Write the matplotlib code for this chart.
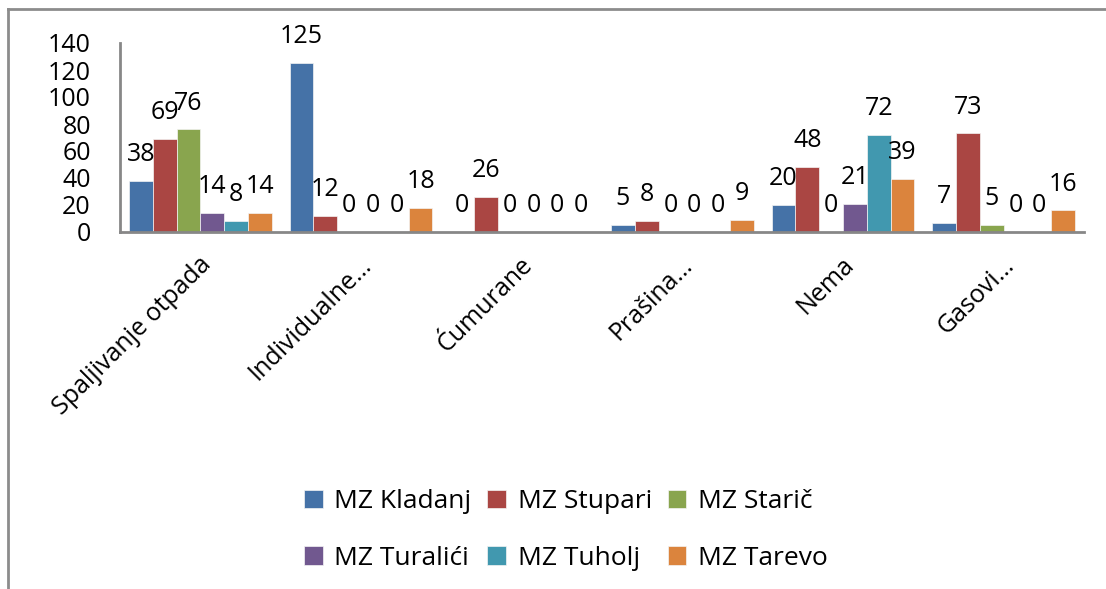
import numpy
import matplotlib.pyplot as plt
from matplotlib.lines import Line2D

plt.rcParams["font.family"] = ["Open Sans", "DejaVu Sans"]

categories = ["Spaljivanje otpada", "Individualne…", "Ćumurane", "Prašina…", "Nema", "Gasovi…"]
series = ["MZ Kladanj", "MZ Stupari", "MZ Starič", "MZ Turalići", "MZ Tuholj", "MZ Tarevo"]
kladanj = [38, 125, 0, 5, 20, 7]
stupari = [69, 12, 26, 8, 48, 73]
staric = [76, 0, 0, 0, 0, 5]
turalici = [14, 0, 0, 0, 21, 0]
tuholj = [8, 0, 0, 0, 72, 0]
tarevo = [14, 18, 0, 9, 39, 16]
values = [kladanj, stupari, staric, turalici, tuholj, tarevo]
colors = ["#4572A7", "#AA4643", "#89A54E", "#71588F", "#4198AF", "#DB843D"]

W, H = 1106, 589
fs = 18
fig = plt.figure(figsize=(W / 100, H / 100), dpi=100)
ax = fig.add_axes([120 / W, 1 - 232 / H, (1084 - 120) / W, (232 - 43) / H])

X = numpy.arange(len(categories))
width = 1 / (len(series) + 0.75)
handles = []
for i, (name, vals, color) in enumerate(zip(series, values, colors)):
    pos = X + (i - (len(series) - 1) / 2) * width
    bars = ax.bar(pos, vals, width, color=color, label=name,
                  edgecolor="#f4f4f4", linewidth=0.5)
    handles.append(bars)
    for x, v in zip(pos, vals):
        ax.annotate(str(v), (x, v), xytext=(0, 10), textcoords="offset points",
                    ha="center", va="bottom", fontsize=fs, color="black")

ax.set_xlim(-0.5, len(categories) - 0.5)
ax.set_ylim(0, 140)
ax.set_yticks(range(0, 141, 20))
ax.tick_params(axis="y", length=0, pad=21, labelsize=fs)
ax.tick_params(axis="x", length=0)
ax.set_xticks(X)
ax.set_xticklabels([])
for x, label in zip(X, categories):
    ax.annotate(label, (x, 0), xytext=(5, -21), textcoords="offset points",
                rotation=45, rotation_mode="anchor", ha="right", va="center",
                fontsize=fs, annotation_clip=False)

for side in ["top", "right"]:
    ax.spines[side].set_visible(False)
for side in ["left", "bottom"]:
    ax.spines[side].set_color("#878787")
    ax.spines[side].set_linewidth(2)

# legend is filled column by column, so reorder to read row by row
order = [0, 3, 1, 4, 2, 5]
fig.legend([handles[i] for i in order], [series[i] for i in order],
           loc="center", bbox_to_anchor=(566 / W, 1 - 530 / H), ncol=3,
           frameon=False, fontsize=19, handlelength=0.7, handleheight=0.7,
           handletextpad=0.45, columnspacing=0.6, labelspacing=1.2)

# chart frame (left and top edges only visible)
fig.add_artist(Line2D([8 / W, 8 / W], [0, 1 - 9 / H], color="#8c8c8c", linewidth=2))
fig.add_artist(Line2D([8 / W, 1], [1 - 9 / H, 1 - 9 / H], color="#8c8c8c", linewidth=2))

plt.savefig("out.png", dpi=100)
